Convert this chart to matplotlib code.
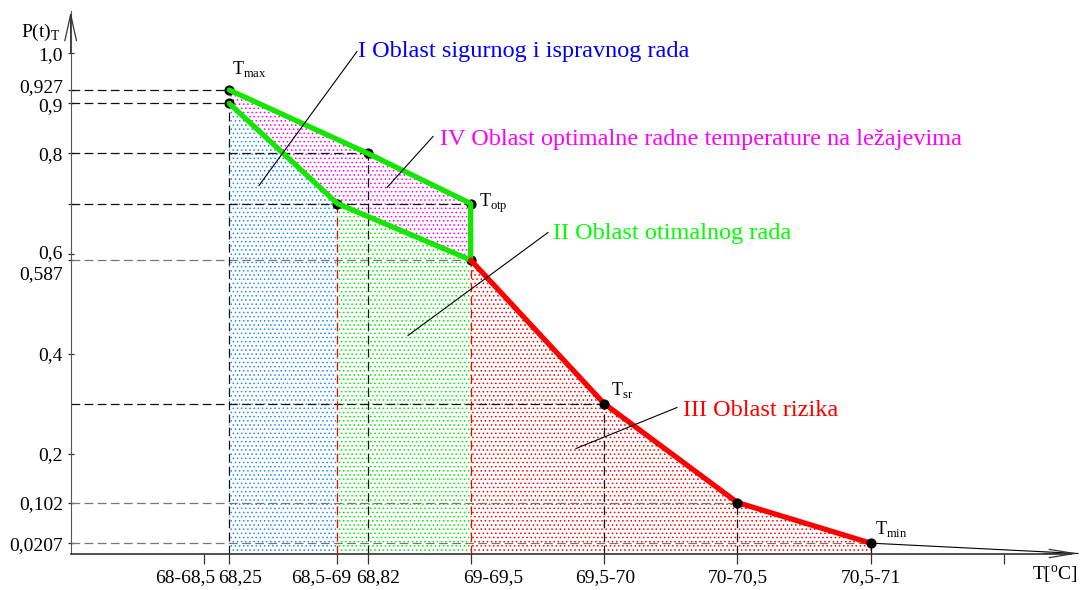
import matplotlib
matplotlib.use('Agg')
import matplotlib.pyplot as plt
from matplotlib.transforms import ScaledTranslation

plt.rcParams['font.family'] = ['Liberation Serif', 'DejaVu Serif']
plt.rcParams['mathtext.fontset'] = 'custom'
plt.rcParams['mathtext.rm'] = 'Liberation Serif'
plt.rcParams['hatch.linewidth'] = 0.6

# x is in "interval units": 0 = 68-68,5, 1 = 68,5-69, ... (schematic axis)
x_ticks = [0, 0.19, 1, 1.23, 2, 3, 4, 5, 6]
x_labels = ['68-68,5', '68,25', '68,5-69', '68,82', '69-69,5',
            '69,5-70', '70-70,5', '70,5-71', '']
y_ticks = [1.0, 0.927, 0.9, 0.8, 0.7, 0.6, 0.587, 0.4, 0.2, 0.102, 0.0207]
y_labels = ['1,0', '0,927', '0,9', '0,8', '', '0,6', '0,587',
            '0,4', '0,2', '0,102', '0,0207']

# upper boundary of optimal area (Tmax -> Totp)
upper_x = [0.19, 1.23, 2.0]
upper_p = [0.927, 0.8, 0.7]
# lower boundary (green)
lower_x = [0.19, 1.0, 2.0]
lower_p = [0.9, 0.7, 0.587]
# risk area (red)
risk_x = [2.0, 3.0, 4.0, 5.0]
risk_p = [0.587, 0.3, 0.102, 0.0207]

GREEN = '#14e600'
RED = '#ff0000'

fig = plt.figure(figsize=(10.82, 5.9), dpi=100)
ax = fig.add_axes([0, 0, 1, 1])
ax.set_xlim(-1.53, 6.585)
ax.set_ylim(-0.073, 1.107)
ax.patch.set_alpha(0)


def under(xs, ps):
    return [xs[0]] + list(xs) + [xs[-1]], [0] + list(ps) + [0]


# dotted regions
bx, by = under(lower_x[:2], lower_p[:2])
ax.fill(bx, by, facecolor='none', edgecolor='#1e8cff', lw=0, hatch='....', zorder=1)
gx, gy = under(lower_x[1:], lower_p[1:])
ax.fill(gx, gy, facecolor='none', edgecolor='#00ee00', lw=0, hatch='....', zorder=1)
ax.fill(upper_x + lower_x[::-1], upper_p + lower_p[::-1],
        facecolor='none', edgecolor='#ff00ff', lw=0, hatch='....', zorder=1)
rx, ry = under(risk_x, risk_p)
ax.fill(rx, ry, facecolor='none', edgecolor=RED, lw=0, hatch='....', zorder=1)

# dashed guide lines to the axes
all_x = upper_x + lower_x + risk_x
all_p = upper_p + lower_p + risk_p
h_end = {}
v_end = {}
for x, p in zip(all_x, all_p):
    h_end[p] = max(h_end.get(p, x), x)
    v_end[x] = min(v_end.get(x, p), p)
for p, x in h_end.items():
    c = '#777777' if p in (0.587, 0.102, 0.0207) else '#111111'
    ax.plot([-1, x], [p, p], color=c, lw=0.9, dashes=(7, 3.5), zorder=2)
for x, p in v_end.items():
    c = RED if x in (1.0, 2.0) else '#111111'
    ax.plot([x, x], [0, p], color=c, lw=0.9, dashes=(7, 3.5), zorder=2)

# curves
ax.plot(upper_x + [2.0], upper_p + [0.587], color=GREEN, lw=3.8,
        solid_capstyle='round', zorder=4)
ax.plot(lower_x, lower_p, color=GREEN, lw=3.8, solid_capstyle='round', zorder=4)
ax.plot(risk_x, risk_p, color=RED, lw=3.8, solid_capstyle='round', zorder=4)
ax.plot([risk_x[-1], 6.555], [risk_p[-1], 0], color='k', lw=0.8, zorder=3)

# points
ax.scatter(upper_x + lower_x, upper_p + lower_p, s=40, color='k', zorder=3)
ax.scatter(risk_x[1:], risk_p[1:], s=40, color='k', zorder=5)

# axes
ax.spines[['top', 'right']].set_visible(False)
ax.spines['left'].set_position(('data', -1))
ax.spines['left'].set_bounds(0, 1.084)
ax.spines['left'].set_color('#555555')
ax.spines['bottom'].set_position(('data', 0))
ax.spines['bottom'].set_bounds(-1, 6.5)
ax.spines['bottom'].set_color('#333333')
ax.spines['bottom'].set_linewidth(1.2)
ax.annotate('', xy=(-1, 1.084), xytext=(-1, 1.0),
            arrowprops=dict(arrowstyle='->,head_length=1.9,head_width=0.42',
                            lw=0.9, color='#333333', shrinkA=0, shrinkB=0))
ax.annotate('', xy=(6.555, 0), xytext=(6.3, 0),
            arrowprops=dict(arrowstyle='->,head_length=1.8,head_width=0.3',
                            lw=0.9, color='#333333', shrinkA=0, shrinkB=0))

ax.set_yticks(y_ticks, y_labels, fontsize=14)
ax.tick_params(axis='y', direction='inout', length=5, width=0.9,
               color='#333333', pad=3)
ax.set_xticks(x_ticks, x_labels, fontsize=14)
ax.tick_params(axis='x', direction='out', length=7.5, width=0.9,
               color='#333333', pad=4)
x_shift = [-18.5, 11, -16, 10, 23, 1, 0, 0, 0]
for lab, dx in zip(ax.get_xticklabels(), x_shift):
    lab.set_transform(lab.get_transform() + ScaledTranslation(dx / 100, 0, fig.dpi_scale_trans))
y_shift = {'0,927': 0.04, '0,9': -0.015, '0,6': 0.02, '0,587': -0.13}
for lab in ax.get_yticklabels():
    dy = y_shift.get(lab.get_text(), 0)
    lab.set_transform(lab.get_transform() + ScaledTranslation(0, dy, fig.dpi_scale_trans))

ax.text(-1.3725, 1.043, r'P(t)$_{\mathrm{T}}$', fontsize=14, va='center', ha='left')
ax.text(6.555, -0.043, r'T[$^{\mathrm{o}}$C]', fontsize=14, va='center', ha='right')

# point names
for name, x, p, off in [('max', 0.19, 0.927, (2, 15)), ('otp', 2.0, 0.7, (6, 0)),
                        ('sr', 3.0, 0.3, (5, 10)), ('min', 5.0, 0.0207, (3, 10))]:
    ax.annotate(r'T$_{\mathrm{%s}}$' % name, (x, p), xytext=off,
                textcoords='offset points', fontsize=13, va='center', ha='left')

# region labels with leader lines
regions = [
    ('I Oblast sigurnog i ispravnog rada', '#0000ff', (1.155, 0.994), (1.1475, 1.004), (0.4125, 0.736)),
    ('IV Oblast optimalne radne temperature na ležajevima', '#ff00ff', (1.77, 0.816), (1.7175, 0.834), (1.3725, 0.732)),
    ('II Oblast otimalnog rada', '#00ff00', (2.6175, 0.628), (2.58, 0.642), (1.53, 0.436)),
    ('III Oblast rizika', RED, (3.5925, 0.274), (3.5475, 0.292), (2.79, 0.21)),
]
for txt, c, pos, a, b in regions:
    ax.text(pos[0], pos[1], txt, color=c, fontsize=17.5, va='baseline', ha='left')
    ax.plot([a[0], b[0]], [a[1], b[1]], color='k', lw=0.8, zorder=6)

fig.savefig('out.png', dpi=100)
